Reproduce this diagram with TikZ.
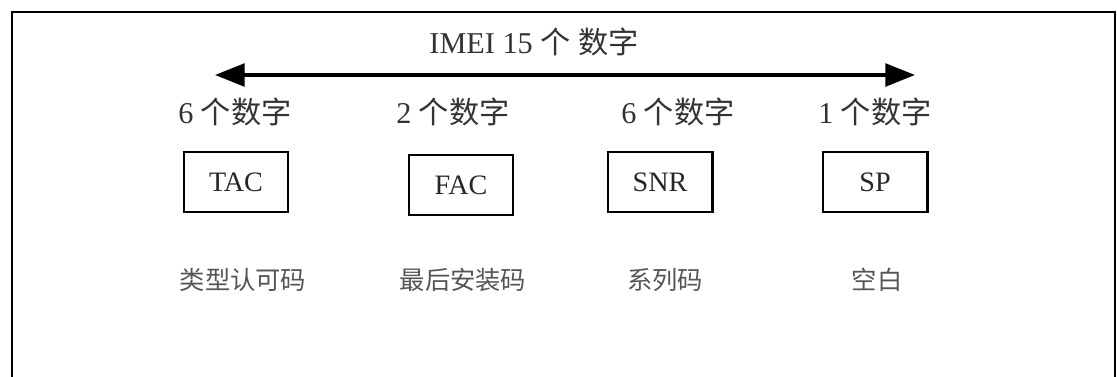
\documentclass[tikz,border=0pt]{standalone}
\usepackage{fontspec}
\setmainfont{Liberation Serif}
\newfontfamily\cjk{Noto Sans CJK SC}
\usepackage{tikz}
\usetikzlibrary{arrows.meta}
\definecolor{cjkgray}{HTML}{555555}

\begin{document}
\begin{tikzpicture}[
  x=0.025cm, y=-0.025cm,
  field/.style={draw, line width=2.1pt, minimum width=2.6cm, minimum height=1.5cm,
                inner sep=0pt, font=\fontsize{20}{24}\selectfont, text=black!85},
  count/.style={font=\fontsize{21.5}{25}\selectfont, text=black!80},
  meaning/.style={font=\cjk\fontsize{18}{21}\selectfont, text=cjkgray},
  title/.style={font=\fontsize{21.5}{25}\selectfont, text=black!80},
  span/.style={line width=2.6pt, {Triangle[length=21pt, width=16pt]}-{Triangle[length=21pt, width=16pt]}},
]
\useasboundingbox (0,0) rectangle (1117,376);

% outer frame, open at the bottom
\draw[line width=2.1pt] (12,380) -- (12,12) -- (1115,12) -- (1115,380);

\node[title] (imei) at (534,42) {IMEI 15 {\cjk 个} {\cjk 数字}};

\coordinate (left) at (215,75);
\coordinate (right) at (915,75);
\draw[span] (left) -- (right);

\node[count] (c1) at (235,112) {6 {\cjk 个数字}};
\node[count] (c2) at (453,112) {2 {\cjk 个数字}};
\node[count] (c3) at (678,112) {6 {\cjk 个数字}};
\node[count] (c4) at (875,112) {1 {\cjk 个数字}};

\node[field] (tac) at (236,182) {TAC};
\node[field] (fac) at (461,185) {FAC};
\node[field] (snr) at (660,182) {SNR};
\node[field] (sp) at (875,182) {SP};

\node[meaning] (m1) at (243,280) {类型认可码};
\node[meaning] (m2) at (463,280) {最后安装码};
\node[meaning] (m3) at (665,280) {系列码};
\node[meaning] (m4) at (877,280) {空白};

\end{tikzpicture}
\end{document}
